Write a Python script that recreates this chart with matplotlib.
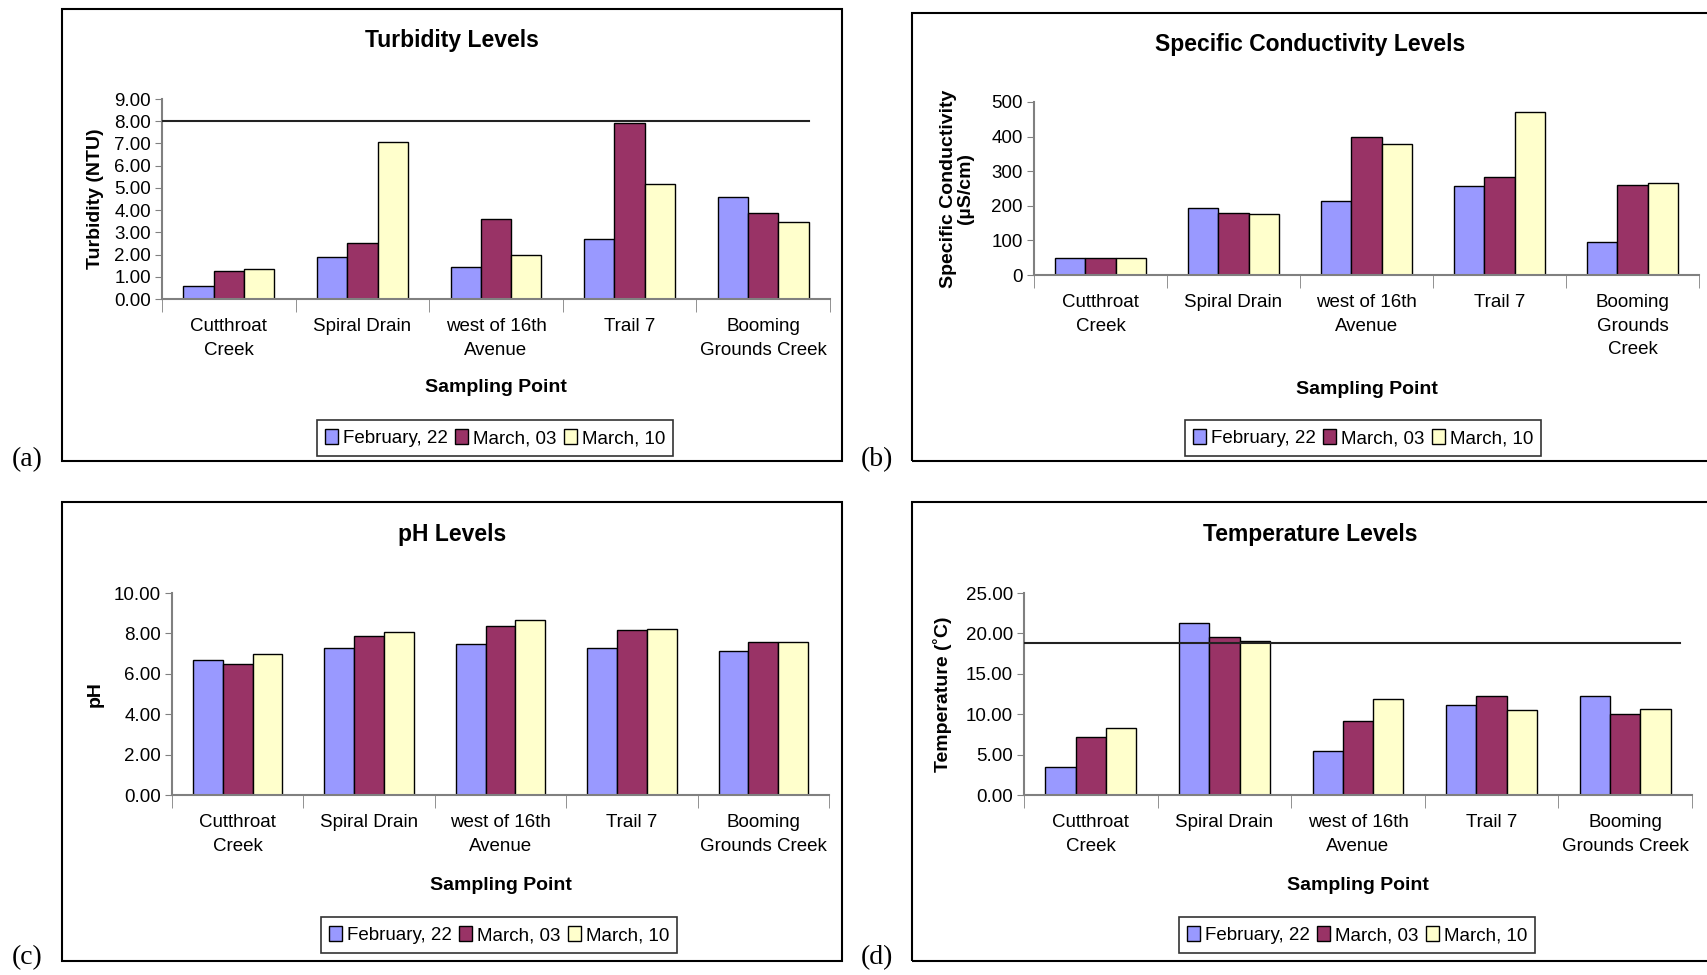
import matplotlib
matplotlib.use("Agg")
import matplotlib.pyplot as plt
from matplotlib.patches import Rectangle
import numpy as np

W, H = 1707, 975

categories = ["Cutthroat\nCreek", "Spiral Drain", "west of 16th\nAvenue", "Trail 7", "Booming\nGrounds Creek"]
categories_b = ["Cutthroat\nCreek", "Spiral Drain", "west of 16th\nAvenue", "Trail 7", "Booming\nGrounds\nCreek"]
series = ["February, 22", "March, 03", "March, 10"]
colors = ["#9999FF", "#993366", "#FFFFCC"]

turbidity_feb = [0.60, 1.87, 1.45, 2.72, 4.60]
turbidity_mar03 = [1.27, 2.52, 3.60, 7.92, 3.87]
turbidity_mar10 = [1.33, 7.05, 2.00, 5.18, 3.47]
turbidity_limit = 8.0

cond_feb = [50, 193, 213, 257, 95]
cond_mar03 = [50, 180, 400, 282, 260]
cond_mar10 = [50, 175, 378, 470, 265]

ph_feb = [6.70, 7.27, 7.50, 7.27, 7.12]
ph_mar03 = [6.48, 7.87, 8.37, 8.17, 7.57]
ph_mar10 = [6.98, 8.07, 8.67, 8.23, 7.57]

temp_feb = [3.5, 21.3, 5.5, 11.2, 12.3]
temp_mar03 = [7.2, 19.6, 9.2, 12.3, 10.0]
temp_mar10 = [8.3, 19.1, 11.9, 10.5, 10.7]
temp_limit = 18.8

NARROW = ["Liberation Sans Narrow", "Liberation Sans", "DejaVu Sans"]
WIDE = ["Liberation Sans", "DejaVu Sans"]
SERIF = ["Liberation Serif", "DejaVu Serif"]

fig = plt.figure(figsize=(W / 100, H / 100), dpi=100)


def fx(x):
    return x / W


def fy(y):
    return 1 - y / H


def box(l, t, r, b):
    fig.patches.append(Rectangle((fx(l), fy(b)), fx(r) - fx(l), fy(t) - fy(b),
                                 transform=fig.transFigure, fill=False,
                                 edgecolor="black", linewidth=1.5))


def panel(rect, data, cats, ylim, yticks, fmt, title, title_xy, ylabel, ylabel_x,
          xlabel_y, legend_xy, plabel, plabel_xy, limit=None, limit_frac=0.97):
    l, t, r, b = rect
    ax = fig.add_axes([fx(l), fy(b), fx(r) - fx(l), fy(t) - fy(b)])
    x = np.arange(len(cats))
    bw = 0.227
    handles = []
    for j, vals in enumerate(data):
        hb = ax.bar(x + (j - 1) * bw, vals, bw, color=colors[j], edgecolor="black",
                    linewidth=1.0, label=series[j], zorder=2)
        handles.append(hb)
    ax.set_xlim(-0.5, len(cats) - 0.5)
    ax.set_ylim(*ylim)
    ax.set_yticks(yticks)
    ax.set_yticklabels([fmt.format(v) for v in yticks], fontsize=13.5, family=NARROW)
    ax.set_xticks(x)
    ax.set_xticklabels(cats, fontsize=13.5, family=NARROW, linespacing=1.5)
    ax.set_xticks(np.arange(-0.5, len(cats)), minor=True)
    ax.tick_params(axis="x", which="major", length=0, pad=14)
    ax.tick_params(axis="x", which="minor", length=9, color="#808080", direction="out")
    ax.tick_params(axis="y", length=5, color="#808080", direction="out", pad=3)
    for s in ["top", "right"]:
        ax.spines[s].set_visible(False)
    for s in ["left", "bottom"]:
        ax.spines[s].set_color("#808080")
        ax.spines[s].set_linewidth(1.5)
    ax.patch.set_alpha(0)
    if limit is not None:
        ax.axhline(limit, xmin=0, xmax=limit_frac, color="#222222", linewidth=1.5, zorder=3)
    fig.text(fx(title_xy[0]), fy(title_xy[1]), title, ha="center", va="center",
             fontsize=16.5, fontweight="bold", family=NARROW)
    fig.text(fx(ylabel_x), fy((t + b) / 2), ylabel, ha="center", va="center",
             rotation=90, fontsize=14, fontweight="bold", family=WIDE, linespacing=1.05)
    fig.text(fx((l + r) / 2), fy(xlabel_y), "Sampling Point", ha="center", va="center",
             fontsize=14, fontweight="bold", family=NARROW)
    leg = fig.legend(handles=handles, labels=series, loc="center",
                     bbox_to_anchor=(fx(legend_xy[0]), fy(legend_xy[1])),
                     ncol=3, frameon=True, fancybox=False, edgecolor="black",
                     prop={"family": NARROW, "size": 13.5}, handlelength=0.7,
                     handleheight=0.9, handletextpad=0.25, columnspacing=0.4,
                     borderpad=0.45, borderaxespad=0)
    leg.get_frame().set_linewidth(1.2)
    fig.text(fx(plabel_xy[0]), fy(plabel_xy[1]), plabel, ha="center", va="center",
             fontsize=20, family=SERIF)
    return ax


# panel boxes
box(62, 9, 842, 461)
box(912, 13, 1712, 461)
box(62, 502, 842, 961)
box(912, 502, 1712, 961)

panel((162, 99, 830, 299), [turbidity_feb, turbidity_mar03, turbidity_mar10], categories,
      (0, 9), np.arange(0, 9.01, 1.0), "{:.2f}", "Turbidity Levels", (452, 41),
      "Turbidity (NTU)", 95, 388, (495, 438), "(a)", (27, 460),
      limit=turbidity_limit, limit_frac=0.969)

panel((1034, 102, 1699, 275), [cond_feb, cond_mar03, cond_mar10], categories_b,
      (0, 500), np.arange(0, 501, 100), "{:.0f}", "Specific Conductivity Levels", (1310, 45),
      "Specific Conductivity\n(µS/cm)", 957, 389, (1363, 438), "(b)", (877, 460))

panel((172, 593, 829, 795), [ph_feb, ph_mar03, ph_mar10], categories,
      (0, 10), np.arange(0, 10.01, 2.0), "{:.2f}", "pH Levels", (452, 535),
      "pH", 95, 885, (499, 935), "(c)", (27, 958))

panel((1024, 593, 1692, 795), [temp_feb, temp_mar03, temp_mar10], categories,
      (0, 25), np.arange(0, 25.01, 5.0), "{:.2f}", "Temperature Levels", (1310, 535),
      "Temperature (˚C)", 943, 885, (1357, 935), "(d)", (877, 958),
      limit=temp_limit, limit_frac=0.982)

fig.savefig("out.png", dpi=100, facecolor="white")
